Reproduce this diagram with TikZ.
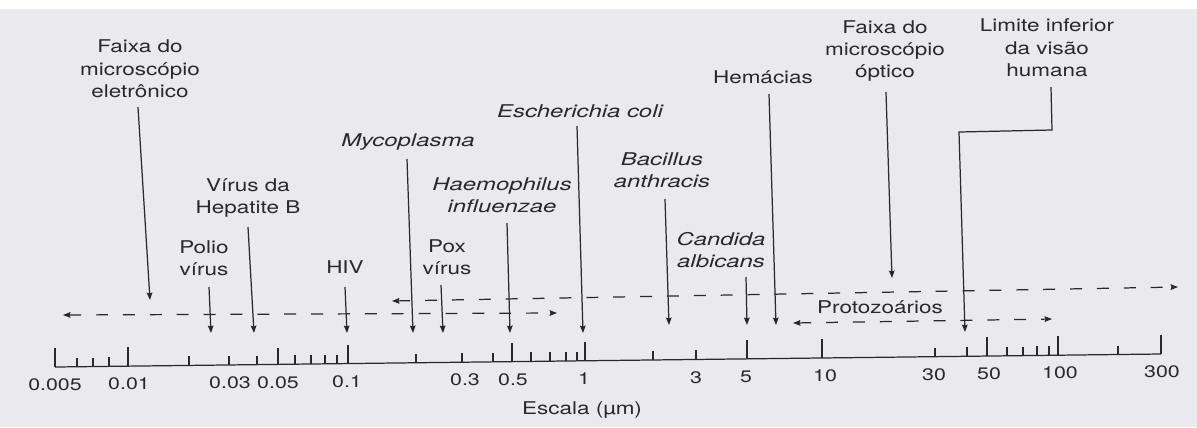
\documentclass[tikz,border=0pt]{standalone}
\usepackage{graphicx}
\usepackage{fontspec}
\setmainfont{TeX Gyre Heros}
\usetikzlibrary{arrows.meta}
\definecolor{bgcol}{RGB}{234,233,238}
\definecolor{ink}{RGB}{40,40,48}
\newcommand{\wx}[1]{\scalebox{1.28}[1]{#1}}
\newcommand{\wi}[1]{\scalebox{1.36}[1]{#1}}
\begin{document}
\begin{tikzpicture}[x=0.02cm,y=-0.02cm,
  lbl/.style={text=ink,font=\fontsize{10}{12.8}\selectfont,align=center,inner sep=0pt},
  itl/.style={text=ink,font=\fontsize{10}{12.8}\selectfont\itshape,align=center,inner sep=0pt},
  num/.style={text=ink,font=\fontsize{9.5}{12}\selectfont,inner sep=0pt},
  tip/.tip={Stealth[length=4.2pt,width=3.2pt,inset=0.5pt]},
  ptr/.style={draw=ink,line width=0.7pt,-tip},
  rng/.style={draw=ink,line width=0.7pt,dash pattern=on 6.8pt off 8.5pt,tip-tip},
  axisline/.style={draw=ink,line width=0.7pt},
  tickline/.style={draw=ink,line width=0.7pt}]
\useasboundingbox (0,0) rectangle (1197,427);
\fill[bgcol] (0,0) rectangle (1197,427);
\fill[white] (0,0) rectangle (1197,9);

% axis
\coordinate (ax0) at (55,367);
\coordinate (ax1) at (1161,354);
\draw[axisline] (ax0) -- (ax1);
\foreach \x/\h in {55/19,77/9,93/9,109/9,128/19,189/9,229/9,257/9,278/16,295/9,311/9,325/9,337/9,348/19,416/9,462/9,493/9,512/19,531/9,550/9,566/9,577/9,585/19,653/9,696/9,747/19,822/19,935/9,967/9,987/19,1007/9,1023/9,1037/9,1049/9,1058/19,1118/9,1161/19}{
  \pgfmathsetmacro\yb{367-0.01175*(\x-55)}
  \draw[tickline] (\x,\yb) -- ++(0,-\h);
}
\foreach \x/\t [count=\i] in {55/0.005,129/0.01,230/0.03,278/0.05,347/0.1,465/0.3,513/0.5,584/1,696/3,746/5,825/10,934/30,989/50,1060/100,1162/300}{
  \pgfmathsetmacro\yl{367-0.01175*(\x-55)+18}
  \node[num] (tl\i) at (\x,\yl) {\wx{\t}};
}
\node[lbl] (scale) at (582,410) {\wx{Escala (µm)}};

% labels
\node[lbl] (lEM) at (140,69) {\wx{Faixa do}\\\wx{microscópio}\\\wx{eletrônico}};
\node[lbl] (lHepB) at (248,198) {\wx{Vírus da}\\\wx{Hepatite B}};
\node[lbl] (lPolio) at (204,258) {\wx{Polio}\\\wx{vírus}};
\node[lbl] (lHIV) at (345,267) {\wx{HIV}};
\node[itl] (lMyco) at (408,142) {\wi{Mycoplasma}};
\node[lbl] (lPox) at (447,257) {\wx{Pox}\\\wx{vírus}};
\node[itl] (lHaem) at (502,195) {\wi{Haemophilus}\\\wi{influenzae}};
\node[itl] (lEcoli) at (580,111) {\wi{Escherichia coli}};
\node[itl] (lBac) at (662,170) {\wi{Bacillus}\\\wi{anthracis}};
\node[itl] (lCand) at (721,250) {\wi{Candida}\\\wi{albicans}};
\node[lbl] (lHem) at (763,77) {\wx{Hemácias}};
\node[lbl] (lOM) at (885,51) {\wx{Faixa do}\\\wx{microscópio}\\\wx{óptico}};
\node[lbl] (lLim) at (1047,48) {\wx{Limite inferior}\\\wx{da visão}\\\wx{humana}};
\node[lbl] (lProto) at (880,307) {\wx{Protozoários}};

% pointer arrows
\coordinate (emS) at (138,107);   \coordinate (emT) at (150,300);
\coordinate (hbS) at (248,227);   \coordinate (hbT) at (254,333);
\coordinate (poS) at (209,287);   \coordinate (poT) at (211,333);
\coordinate (hiS) at (345,287);   \coordinate (hiT) at (347,333);
\coordinate (myS) at (407,159);   \coordinate (myT) at (413,333);
\coordinate (pxS) at (441,285);   \coordinate (pxT) at (443,333);
\coordinate (haS) at (507,223);   \coordinate (haT) at (510,333);
\coordinate (ecS) at (577,126);   \coordinate (ecT) at (583,333);
\coordinate (baS) at (665,199);   \coordinate (baT) at (669,325);
\coordinate (caS) at (746,277);   \coordinate (caT) at (747,325);
\coordinate (heS) at (769,94);    \coordinate (heT) at (776,325);
\coordinate (omS) at (886,92);    \coordinate (omT) at (892,278);
\coordinate (liS) at (1051,87);   \coordinate (liA) at (1052,130);
\coordinate (liB) at (959,132);   \coordinate (liT) at (965,332);
\draw[ptr] (emS) -- (emT);
\draw[ptr] (hbS) -- (hbT);
\draw[ptr] (poS) -- (poT);
\draw[ptr] (hiS) -- (hiT);
\draw[ptr] (myS) -- (myT);
\draw[ptr] (pxS) -- (pxT);
\draw[ptr] (haS) -- (haT);
\draw[ptr] (ecS) -- (ecT);
\draw[ptr] (baS) -- (baT);
\draw[ptr] (caS) -- (caT);
\draw[ptr] (heS) -- (heT);
\draw[ptr] (omS) -- (omT);
\draw[ptr] (liS) -- (liA) -- (liB) -- (liT);

% range lines
\coordinate (emL) at (63,315);   \coordinate (emR) at (557,313);
\coordinate (omL) at (392,301);  \coordinate (omR) at (1178,287);
\coordinate (prL) at (793,323);  \coordinate (prR) at (1052,319);
\draw[rng] (emL) -- (emR);
\draw[rng] (omL) -- (omR);
\draw[rng] (prL) -- (prR);
\end{tikzpicture}
\end{document}
